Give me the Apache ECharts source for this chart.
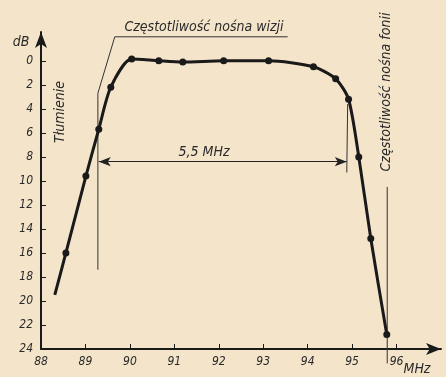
<!DOCTYPE html>
<html>
<head>
<meta charset="utf-8">
<script src="https://cdn.jsdelivr.net/npm/echarts@6/dist/echarts.min.js"></script>
<style>
  html, body { margin: 0; padding: 0; background: #f4e4ca; }
  #chart { width: 446px; height: 377px; }
</style>
</head>
<body>
<div id="chart"></div>
<script>
// charakterystyka tłumienia (MHz, dB)
const freq = [88.31, 88.56, 89.01, 89.30, 89.57, 90.04, 90.65, 91.19, 92.11, 93.12, 94.13, 94.63, 94.92, 95.15, 95.42, 95.78]
const atten = [19.5, 16.0, 9.6, 5.7, 2.2, -0.15, 0.0, 0.1, 0.0, 0.0, 0.5, 1.5, 3.2, 8.0, 14.8, 22.8]
const dotted = [false, true, true, true, true, true, true, true, true, true, true, true, true, true, true, true]

// etykiety osi
const xTicks = [88, 89, 90, 91, 92, 93, 94, 95, 96]
const yTicks = [0, 2, 4, 6, 8, 10, 12, 14, 16, 18, 20, 22, 24]

// linie pomocnicze (MHz, dB)
const wizjiFreq = [89.28, 89.28, 89.66, 93.55]
const wizjiDb = [17.4, 2.7, -2.0, -2.0]
const foniiFreq = [95.79, 95.79]
const foniiDb = [10.5, 25.2]
const rightFreq = [94.9, 94.88]
const rightDb = [3.6, 9.3]
const bandFreq = [89.30, 94.88]
const bandDb = [8.4, 8.4]

const zip = (a, b) => a.map((v, i) => [v, b[i]])

const font = '"DejaVu Sans Condensed", "DejaVu Sans", sans-serif'
const ink = '#1a1a1a'
const textInk = '#2a2a2a'

const chart = echarts.init(document.getElementById('chart'))

const option = {
  backgroundColor: '#f4e4ca',
  animation: false,
  grid: { left: 41, right: 5, top: 32, bottom: 28 },
  xAxis: {
    type: 'value',
    min: 88,
    max: 97,
    axisLine: {
      onZero: false,
      lineStyle: { color: ink, width: 2 },
      symbol: ['none', 'arrow'],
      symbolSize: [9, 15]
    },
    axisTick: { inside: true, length: 5, customValues: xTicks, lineStyle: { color: ink } },
    axisLabel: {
      customValues: xTicks,
      margin: 7,
      color: textInk,
      fontFamily: font,
      fontStyle: 'italic',
      fontSize: 12
    },
    splitLine: { show: false }
  },
  yAxis: {
    type: 'value',
    inverse: true,
    min: -2.4,
    max: 24,
    axisLine: {
      show: true,
      onZero: false,
      lineStyle: { color: ink, width: 2 },
      symbol: ['none', 'arrow'],
      symbolSize: [9, 16]
    },
    axisTick: { show: true, inside: true, length: 5, customValues: yTicks, lineStyle: { color: ink } },
    axisLabel: {
      customValues: yTicks,
      margin: 8,
      color: textInk,
      fontFamily: font,
      fontStyle: 'italic',
      fontSize: 12
    },
    splitLine: { show: false }
  },
  series: [
    {
      type: 'line',
      data: freq.map((f, i) => ({ value: [f, atten[i]], symbol: dotted[i] ? 'circle' : 'none' })),
      smooth: 0.25,
      symbolSize: 7,
      itemStyle: { color: ink },
      lineStyle: { color: ink, width: 3 },
      z: 5
    },
    {
      type: 'line',
      data: zip(wizjiFreq, wizjiDb),
      symbol: 'none',
      clip: false,
      lineStyle: { color: '#333', width: 1 }
    },
    {
      type: 'line',
      data: zip(foniiFreq, foniiDb),
      symbol: 'none',
      clip: false,
      lineStyle: { color: '#333', width: 1 }
    },
    {
      type: 'line',
      data: zip(rightFreq, rightDb),
      symbol: 'none',
      lineStyle: { color: '#333', width: 1 }
    },
    {
      type: 'line',
      data: [],
      markLine: {
        silent: true,
        symbol: ['arrow', 'arrow'],
        symbolSize: [7, 12],
        label: { show: false },
        lineStyle: { color: '#222', width: 1, type: 'solid' },
        data: [[{ coord: zip(bandFreq, bandDb)[0] }, { coord: zip(bandFreq, bandDb)[1] }]]
      }
    }
  ],
  graphic: [
    { type: 'text', x: 21, y: 42, style: { text: 'dB', font: 'italic 14px ' + font, fill: textInk, align: 'center', verticalAlign: 'middle' } },
    {
      type: 'text', x: 60, y: 112, rotation: Math.PI / 2,
      style: { text: 'Tłumienie', font: 'italic 14px ' + font, fill: textInk, align: 'center', verticalAlign: 'middle' }
    },
    {
      type: 'text', x: 204, y: 27,
      style: { text: 'Częstotliwość nośna wizji', font: 'italic 14px ' + font, fill: textInk, align: 'center', verticalAlign: 'middle' }
    },
    {
      type: 'text', x: 386, y: 92, rotation: Math.PI / 2,
      style: { text: 'Częstotliwość nośna fonii', font: 'italic 14px ' + font, fill: textInk, align: 'center', verticalAlign: 'middle' }
    },
    {
      type: 'text', x: 204, y: 152,
      style: { text: '5,5 MHz', font: 'italic 14px ' + font, fill: textInk, align: 'center', verticalAlign: 'middle' }
    },
    {
      type: 'text', x: 417, y: 369,
      style: { text: 'MHz', font: 'italic 14px ' + font, fill: textInk, align: 'center', verticalAlign: 'middle' }
    }
  ]
}

chart.setOption(option)
</script>
</body>
</html>
